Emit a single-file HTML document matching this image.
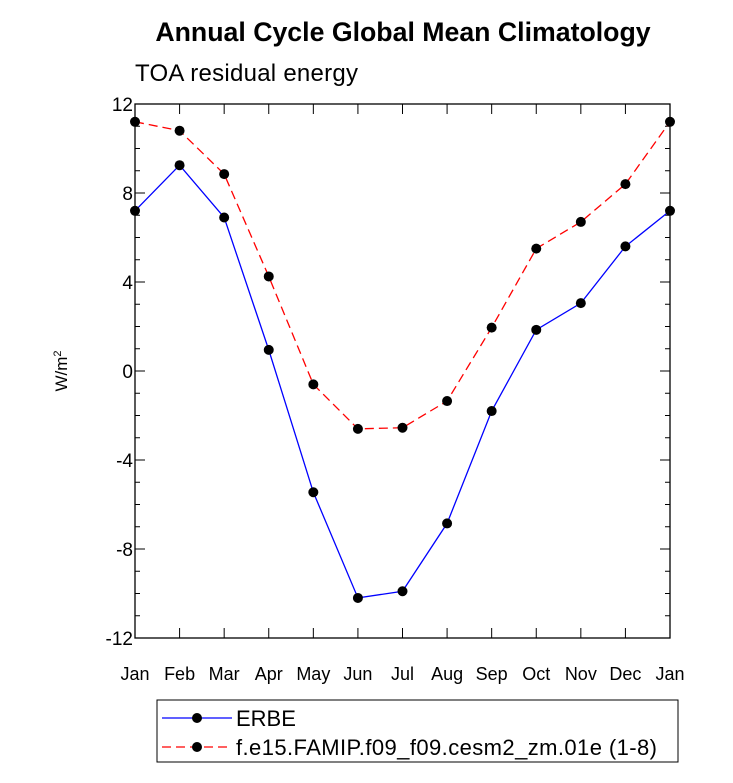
<!DOCTYPE html>
<html><head><meta charset="utf-8">
<style>
body{margin:0;background:#fff;width:733px;height:778px;overflow:hidden;font-family:"Liberation Sans",sans-serif;}
</style></head>
<body>
<svg id="chart" width="733" height="778" xmlns="http://www.w3.org/2000/svg">
<text x="403" y="41" text-anchor="middle" font-size="26.7" font-weight="bold">Annual Cycle Global Mean Climatology</text>
<text x="135" y="81" font-size="24" textLength="223">TOA residual energy</text>
<text transform="translate(67,371) rotate(-90)" text-anchor="middle" font-size="17">W/m<tspan dy="-6" font-size="11">2</tspan></text>
<g id="axes"></g>
<g id="series"></g>
<g>
<rect x="157" y="700" width="521" height="62" fill="none" stroke="#000" stroke-width="1"/>
<line x1="162" y1="718" x2="232" y2="718" stroke="#0000ff" stroke-width="1.3"/>
<circle cx="197" cy="718" r="5" fill="#000"/>
<text x="236" y="726" font-size="22">ERBE</text>
<line x1="162" y1="747" x2="232" y2="747" stroke="#ff0000" stroke-width="1.3" stroke-dasharray="9,5"/>
<circle cx="197" cy="747" r="5" fill="#000"/>
<text x="236" y="755" font-size="22" textLength="421">f.e15.FAMIP.f09_f09.cesm2_zm.01e (1-8)</text>
</g>
</svg>
<script>
const months = ["Jan","Feb","Mar","Apr","May","Jun","Jul","Aug","Sep","Oct","Nov","Dec","Jan"];
const erbe = [7.2,9.25,6.9,0.95,-5.45,-10.2,-9.9,-6.85,-1.8,1.85,3.05,5.6,7.2];
const model = [11.2,10.8,8.85,4.25,-0.6,-2.6,-2.55,-1.35,1.95,5.5,6.7,8.4,11.2];
const yTicks = [12,8,4,0,-4,-8,-12];
const yTickLabels = ["12","8","4","0","-4","-8","-12"];

const NS="http://www.w3.org/2000/svg";
const L=135,R=670,T=104,B=638,yMin=-12,yMax=12;
const xs=i=>L+(R-L)*i/(months.length-1);
const ys=v=>B-(v-yMin)/(yMax-yMin)*(B-T);
function mk(tag,attrs,parent){const e=document.createElementNS(NS,tag);for(const k in attrs)e.setAttribute(k,attrs[k]);parent.appendChild(e);return e;}
const axes=document.getElementById('axes');
const frame=mk('rect',{x:L,y:T,width:R-L,height:B-T,fill:'none',stroke:'#000','stroke-width':1.3},axes);


for(let v=yMin;v<=yMax;v++){
  const major=yTicks.includes(v);const len=major?10:5;const y=ys(v);
  mk('line',{x1:L,y1:y,x2:L+len,y2:y,stroke:'#000','stroke-width':1},axes);
  mk('line',{x1:R,y1:y,x2:R-len,y2:y,stroke:'#000','stroke-width':1},axes);
}
yTicks.forEach((v,i)=>{
  const t=mk('text',{x:L-2,y:ys(v)+7,'text-anchor':'end','font-size':19},axes);
  t.textContent=yTickLabels[i];
  
  
});
months.forEach((m,i)=>{
  const x=xs(i);
  mk('line',{x1:x,y1:B,x2:x,y2:B-10,stroke:'#000','stroke-width':1},axes);
  mk('line',{x1:x,y1:T,x2:x,y2:T+10,stroke:'#000','stroke-width':1},axes);
  const t=mk('text',{x:x,y:B+42,'text-anchor':'middle','font-size':18},axes);
  t.textContent=m;
  
  
});
const sg=document.getElementById('series');
function drawSeries(data,color,dash,name){
  const g=mk('g',{},sg);
  
  
  const pts=data.map((v,i)=>xs(i)+','+ys(v)).join(' ');
  const attrs={points:pts,fill:'none',stroke:color,'stroke-width':1.3};
  if(dash)attrs['stroke-dasharray']=dash;
  mk('polyline',attrs,g);
  data.forEach((v,i)=>{
    const c=mk('circle',{cx:xs(i),cy:ys(v),r:5,fill:'#000'},g);
    
    
  });
}
drawSeries(erbe,'#0000ff',null,'erbe-series');
drawSeries(model,'#ff0000','9,5','model-series');
</script>
</body></html>
